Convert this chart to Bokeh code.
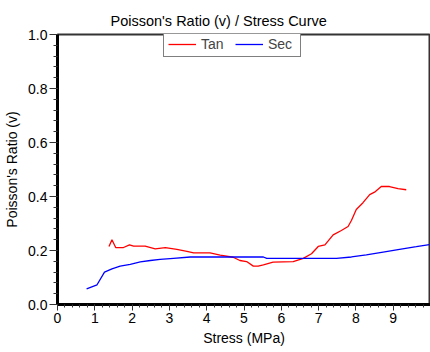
from bokeh.plotting import figure
from bokeh.embed import file_html
from bokeh.resources import INLINE
from bokeh.models import FixedTicker, NumeralTickFormatter, Legend, LegendItem

tan_x = [1.38, 1.46, 1.56, 1.77, 1.93, 2.04, 2.35, 2.62, 2.89, 3.20, 3.47, 3.65, 4.09, 4.36, 4.71,
         4.89, 5.07, 5.25, 5.38, 5.52, 5.78, 6.32, 6.59, 6.81, 6.99, 7.17, 7.39, 7.61, 7.79, 7.88,
         8.01, 8.19, 8.37, 8.50, 8.68, 8.90, 9.13, 9.35]
tan_y = [0.215, 0.240, 0.211, 0.211, 0.221, 0.216, 0.216, 0.206, 0.211, 0.204, 0.197, 0.191, 0.191,
         0.183, 0.175, 0.163, 0.159, 0.142, 0.142, 0.147, 0.157, 0.159, 0.171, 0.188, 0.215, 0.221,
         0.258, 0.274, 0.289, 0.311, 0.352, 0.377, 0.407, 0.416, 0.437, 0.437, 0.429, 0.425]

sec_x = [0.78, 1.06, 1.26, 1.46, 1.68, 1.95, 2.22, 2.49, 2.75, 3.11, 3.56, 5.52, 5.61, 7.48, 7.88,
         8.28, 8.73, 9.17, 9.62, 9.97]
sec_y = [0.058, 0.073, 0.120, 0.132, 0.142, 0.149, 0.158, 0.163, 0.167, 0.171, 0.176, 0.176, 0.171,
         0.171, 0.176, 0.184, 0.194, 0.204, 0.214, 0.222]

x_ticks = [0, 1, 2, 3, 4, 5, 6, 7, 8, 9]
y_ticks = [0.0, 0.2, 0.4, 0.6, 0.8, 1.0]

FONT = "Liberation Sans"

p = figure(width=430, height=350, x_range=(0, 10), y_range=(0, 1),
           output_backend="svg", toolbar_location=None,
           min_border_left=57, min_border_right=0, min_border_top=34, min_border_bottom=46,
           title="Poisson's Ratio (v) / Stress Curve")
p.title.text_font = FONT
p.title.text_font_size = "14.5px"
p.title.text_font_style = "normal"
p.title.align = "left"
p.title.offset = 53
p.title.standoff = 12
p.title.text_color = "#000000"

p.xgrid.visible = False
p.ygrid.visible = False
p.outline_line_color = "#333333"
p.outline_line_width = 2
p.background_fill_color = "white"
p.border_fill_color = "white"

r_tan = p.line(tan_x, tan_y, line_color="#ff0000", line_width=1.3)
r_sec = p.line(sec_x, sec_y, line_color="#0000ff", line_width=1.3)

p.xaxis.ticker = FixedTicker(ticks=x_ticks, minor_ticks=[i / 5 for i in range(0, 50)])
p.yaxis.ticker = FixedTicker(ticks=y_ticks, minor_ticks=[i / 25 for i in range(0, 26)])
p.yaxis.formatter = NumeralTickFormatter(format="0.0")

for ax in (p.xaxis[0], p.yaxis[0]):
    ax.axis_line_width = 3
    ax.axis_line_color = "black"
    ax.major_tick_in = 0
    ax.minor_tick_in = 0
    ax.major_tick_line_color = "#333333"
    ax.minor_tick_line_color = "#333333"
    ax.major_label_text_font = FONT
    ax.major_label_text_font_size = "14px"
    ax.major_label_text_color = "black"
    ax.axis_label_text_font = FONT
    ax.axis_label_text_font_size = "14px"
    ax.axis_label_text_font_style = "normal"
    ax.axis_label_text_color = "black"

p.yaxis.major_tick_out = 8
p.yaxis.minor_tick_out = 4
p.yaxis.major_label_standoff = 2
p.yaxis.axis_label = "Poisson's Ratio (v)"
p.yaxis.axis_label_standoff = 5

p.xaxis.major_tick_out = 6
p.xaxis.minor_tick_out = 3
p.xaxis.major_label_standoff = 2
p.xaxis.axis_label = "Stress (MPa)"
p.xaxis.axis_label_standoff = 4

legend = Legend(items=[LegendItem(label="Tan", renderers=[r_tan]),
                       LegendItem(label="Sec", renderers=[r_sec])],
                orientation="horizontal", location=(106, 247),
                border_line_color="black", border_line_width=1,
                padding=4, spacing=6, margin=0, label_standoff=5, label_width=28,
                glyph_width=28, glyph_height=16, label_height=16,
                label_text_font=FONT, label_text_font_size="14px",
                background_fill_alpha=1.0)
p.add_layout(legend)

open("out.html", "w").write(file_html(p, INLINE))
